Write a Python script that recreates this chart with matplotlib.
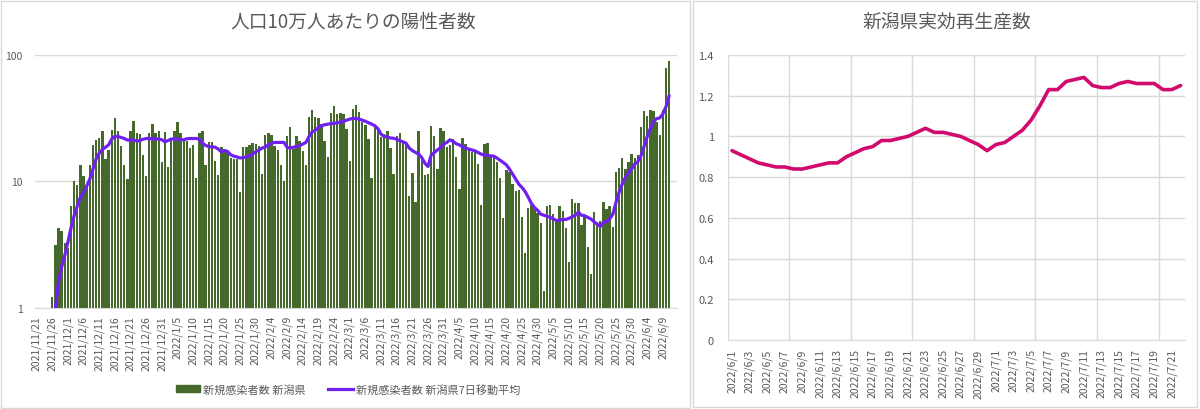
import numpy as np
import pandas as pd
import matplotlib
matplotlib.use("Agg")
import matplotlib.pyplot as plt
from matplotlib.patches import Rectangle
from matplotlib.lines import Line2D

plt.rcParams['font.family'] = ['Noto Sans CJK JP', 'DejaVu Sans']

nan = np.nan

# 人口10万人あたりの新規感染者数 (新潟県), 2021/11/21 から日別
cases_start = "2021-11-21"
cases = [
    nan, nan, nan, nan, nan, 1.23, 3.16, 4.26, 4.08, 3.26,
    3.0, 6.4, 10.0, 9.4, 13.4, 11.1, 9.0, 13.5, 19.5, 21.2,
    21.8, 25.1, 15.0, 17.8, 25.6, 31.4, 25.1, 19.1, 13.5, 10.4,
    25.1, 29.9, 23.9, 23.6, 16.1, 11.1, 24.3, 28.3, 24.3, 25.1,
    14.3, 24.6, 13.0, 22.0, 25.1, 29.6, 24.3, 21.6, 20.8, 18.2,
    19.5, 10.7, 23.9, 25.1, 13.5, 20.6, 20.3, 14.6, 11.2, 18.6,
    18.0, 17.5, 15.2, 15.0, 15.0, 8.3, 18.6, 18.6, 19.3, 20.0,
    19.7, 18.9, 11.4, 23.3, 24.3, 23.3, 19.1, 17.8, 13.5, 10.0,
    23.0, 27.0, 18.0, 23.0, 20.9, 17.5, 13.5, 32.5, 36.5, 32.1,
    31.6, 28.3, 20.9, 15.5, 34.6, 39.0, 34.0, 34.6, 34.0, 25.9,
    14.6, 37.3, 40.2, 35.6, 29.5, 27.8, 21.6, 10.6, 27.5, 26.3,
    22.2, 23.6, 24.8, 18.3, 11.4, 23.0, 23.9, 20.5, 20.3, 7.7,
    11.7, 6.9, 25.1, 15.7, 11.2, 11.4, 27.5, 23.0, 12.5, 26.3,
    25.1, 18.6, 19.3, 21.6, 15.7, 8.7, 21.8, 19.7, 18.0, 17.1,
    17.5, 13.7, 6.5, 19.7, 20.0, 15.9, 15.7, 14.1, 10.6, 5.1,
    12.3, 11.8, 9.5, 8.4, 8.6, 5.2, 2.7, 6.2, 6.5, 6.0,
    5.6, 4.7, 1.37, 6.4, 6.5, 5.5, 4.8, 6.4, 5.8, 4.3,
    2.3, 7.2, 6.7, 6.7, 4.5, 5.35, 3.05, 1.86, 5.7, 4.8,
    4.9, 6.9, 6.05, 6.4, 4.4, 11.8, 12.7, 15.2, 12.6, 14.1,
    16.4, 15.2, 16.1, 27.0, 35.7, 33.0, 36.7, 35.7, 29.2, 23.4,
    36.7, 78.0, 89.5,
]

# 7日移動平均
cases_ma = [
    nan, nan, nan, nan, nan, 0.7, 1.0, 1.6, 2.1, 2.6,
    3.3, 4.3, 5.35, 6.4, 7.5, 8.2, 9.2, 10.4, 12.5, 15.0,
    16.7, 17.8, 18.6, 19.4, 21.6, 22.6, 22.6, 22.2, 21.8, 21.2,
    21.2, 21.2, 20.8, 21.0, 21.5, 21.8, 21.8, 21.7, 21.6, 21.6,
    21.3, 20.5, 21.0, 21.6, 21.6, 21.6, 21.3, 21.3, 21.7, 21.8,
    21.8, 21.8, 21.5, 20.0, 19.2, 18.8, 18.7, 18.6, 18.0, 17.1,
    17.5, 17.2, 16.2, 15.8, 15.6, 15.3, 15.4, 15.6, 15.9, 16.5,
    17.1, 17.7, 18.3, 18.7, 19.4, 19.9, 20.3, 20.3, 20.3, 20.3,
    18.6, 18.3, 18.6, 18.8, 19.2, 19.7, 20.3, 22.6, 24.6, 25.4,
    26.5, 27.5, 28.0, 28.3, 28.5, 28.7, 29.0, 29.4, 29.8, 30.4,
    31.0, 31.4, 31.4, 31.0, 30.4, 29.8, 29.0, 28.3, 27.5, 26.0,
    23.6, 22.6, 22.4, 22.0, 21.9, 21.5, 20.9, 20.5, 20.0, 18.3,
    17.5, 16.9, 16.4, 15.4, 13.9, 13.1, 16.1, 16.9, 17.7, 18.5,
    19.7, 20.3, 21.3, 20.7, 19.8, 19.4, 18.8, 18.3, 18.0, 17.7,
    17.4, 16.9, 16.4, 16.1, 16.0, 15.9, 15.8, 15.3, 14.7, 14.1,
    13.5, 12.5, 11.4, 10.4, 9.5, 8.95, 8.3, 7.5, 6.7, 6.2,
    5.9, 5.5, 5.4, 5.3, 5.2, 5.05, 4.9, 4.95, 5.0, 5.0,
    5.1, 5.25, 5.4, 5.7, 5.4, 5.35, 5.2, 5.05, 4.8, 4.6,
    4.4, 4.75, 4.8, 5.05, 5.5, 6.8, 8.2, 9.5, 10.7, 11.8,
    12.5, 13.7, 14.3, 15.9, 18.9, 22.6, 26.2, 29.5, 31.3, 31.7,
    34.1, 39.0, 47.5,
]

# 新潟県実効再生産数, 2022/6/1 から日別
rt_start = "2022-06-01"
rt = [
    0.93, 0.91, 0.89, 0.87, 0.86, 0.85, 0.85, 0.84, 0.84, 0.85,
    0.86, 0.87, 0.87, 0.90, 0.92, 0.94, 0.95, 0.98, 0.98, 0.99,
    1.00, 1.02, 1.04, 1.02, 1.02, 1.01, 1.00, 0.98, 0.96, 0.93,
    0.96, 0.97, 1.00, 1.03, 1.08, 1.15, 1.23, 1.23, 1.27, 1.28,
    1.29, 1.25, 1.24, 1.24, 1.26, 1.27, 1.26, 1.26, 1.26, 1.23,
    1.23, 1.25,
]

W, H = 1200, 410
TEXT = "#595959"
GRID = "#D9D9D9"

fig = plt.figure(figsize=(W / 100, H / 100), dpi=100)

# panel frames
fig.patches.append(Rectangle((0.5 / W, 1.5 / H), 689.5 / W, 406.5 / H,
                             transform=fig.transFigure, fill=False,
                             edgecolor=GRID, linewidth=1))
fig.patches.append(Rectangle((693 / W, 2.5 / H), 504 / W, 405.5 / H,
                             transform=fig.transFigure, fill=False,
                             edgecolor=GRID, linewidth=1))

# ---- left: 人口10万人あたりの陽性者数 ----
ax1 = fig.add_axes([35 / W, 1 - 309 / H, 642 / W, (309 - 55.7) / H])
dates1 = pd.date_range(cases_start, periods=len(cases), freq="D")
x1 = np.arange(len(cases))
vals = np.array(cases)
ok = ~np.isnan(vals)
ax1.bar(x1[ok], vals[ok], width=0.76, color="#44692A", linewidth=0,
        label="新規感染者数 新潟県", zorder=2)
ax1.plot(x1, cases_ma, color="#7020F2", linewidth=2.3,
         solid_capstyle="round", zorder=3)
ax1.set_yscale("log")
ax1.set_ylim(1, 100)
ax1.set_xlim(-0.5, len(cases) + 1.5)
ax1.set_yticks([1, 10, 100])
ax1.set_yticklabels(["1", "10", "100"])
ax1.yaxis.set_minor_locator(matplotlib.ticker.NullLocator())
ax1.grid(axis="y", color=GRID, linewidth=1, zorder=0)
ticks1 = x1[::5]
ax1.set_xticks(ticks1)
ax1.set_xticklabels([f"{d.year}/{d.month}/{d.day}" for d in dates1[::5]],
                    rotation=90)
ax1.tick_params(axis="both", length=0, labelsize=7.5, colors=TEXT)
ax1.tick_params(axis="x", pad=5)
ax1.tick_params(axis="y", pad=9)
for s in ["top", "right", "left"]:
    ax1.spines[s].set_visible(False)
ax1.spines["bottom"].set_color(GRID)
ax1.set_axisbelow(True)

fig.text(353 / W, 1 - 22 / H, "人口10万人あたりの陽性者数", ha="center",
         va="center", fontsize=13.5, color=TEXT)

handles = [Rectangle((0, 0), 1, 1, color="#44692A"),
           Line2D([0], [0], color="#7020F2", linewidth=2.3)]
fig.legend(handles, ["新規感染者数 新潟県", "新規感染者数 新潟県7日移動平均"],
           loc="center", bbox_to_anchor=(348 / W, 1 - 390 / H), ncol=2,
           frameon=False, fontsize=8, handlelength=2.2, handleheight=0.6,
           columnspacing=2.0, handletextpad=0.3, labelcolor=TEXT)

# ---- right: 新潟県実効再生産数 ----
ax2 = fig.add_axes([727.6 / W, 1 - 341 / H, 457.4 / W, (341 - 56) / H])
dates2 = pd.date_range(rt_start, periods=len(rt), freq="D")
x2 = np.arange(len(rt))
ax2.plot(x2, rt, color="#D10A6E", linewidth=2.6, solid_capstyle="round",
         solid_joinstyle="round", zorder=3)
ax2.set_xlim(-0.5, len(rt) - 0.5)
ax2.set_ylim(0, 1.4)
yt = np.arange(0, 1.41, 0.2)
ax2.set_yticks(yt)
ax2.set_yticklabels(["0", "0.2", "0.4", "0.6", "0.8", "1", "1.2", "1.4"])
ax2.set_xticks(x2[::2])
ax2.set_xticklabels([f"{d.year}/{d.month}/{d.day}" for d in dates2[::2]],
                    rotation=90)
ax2.set_xticks(np.arange(-0.5, len(rt) - 1, 7), minor=True)
ax2.grid(axis="y", color=GRID, linewidth=1, zorder=0)
ax2.grid(axis="x", which="minor", color=GRID, linewidth=1, zorder=0)
ax2.tick_params(axis="both", which="both", length=0, labelsize=7.5,
                colors=TEXT)
ax2.tick_params(axis="y", labelsize=8, pad=10)
ax2.tick_params(axis="x", pad=6)
for s in ["top", "right", "left"]:
    ax2.spines[s].set_visible(False)
ax2.spines["bottom"].set_color(GRID)
ax2.set_axisbelow(True)

fig.text(947 / W, 1 - 22 / H, "新潟県実効再生産数", ha="center",
         va="center", fontsize=13.5, color=TEXT)

fig.savefig("out.png", dpi=100)
